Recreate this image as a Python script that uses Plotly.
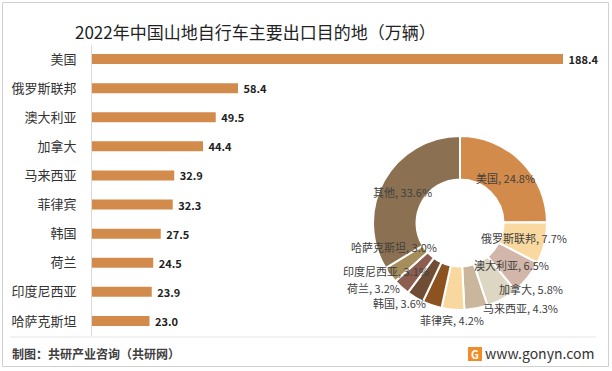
import plotly.graph_objects as go

# ---- data ----
countries = ["美国", "俄罗斯联邦", "澳大利亚", "加拿大", "马来西亚", "菲律宾", "韩国", "荷兰", "印度尼西亚", "哈萨克斯坦"]
volumes = [188.4, 58.4, 49.5, 44.4, 32.9, 32.3, 27.5, 24.5, 23.9, 23.0]

pie_labels = ["美国", "俄罗斯联邦", "澳大利亚", "加拿大", "马来西亚", "菲律宾", "韩国", "荷兰", "印度尼西亚", "哈萨克斯坦", "其他"]
pie_shares = [24.8, 7.7, 6.5, 5.8, 4.3, 4.2, 3.6, 3.2, 3.1, 3.0, 33.6]
pie_colors = ["#D38B4C", "#F9D9A0", "#D3B6AA", "#DCD6C2", "#C9B69C", "#F8D89E",
              "#8C521F", "#6F4E35", "#8C5E50", "#A58E5C", "#8B7151"]

title_text = "2022年中国山地自行车主要出口目的地（万辆）"
source_text = "制图：共研产业咨询（共研网）"
site_text = "www.gonyn.com"

W, H = 612, 371
FONT = "Noto Sans CJK SC"

def px(x):
    return x / W

def py(y):
    return 1 - y / H

fig = go.Figure()

fig.add_trace(go.Bar(
    x=volumes, y=countries, orientation="h",
    marker=dict(color="#D38B4C", line=dict(width=0)),
    text=volumes, texttemplate="\u00a0<b>%{x:.1f}</b>", textposition="outside",
    constraintext="none",
    textfont=dict(size=11, color="#222222", family=FONT),
    cliponaxis=False, hoverinfo="skip", showlegend=False,
))

fig.add_trace(go.Pie(
    labels=pie_labels, values=pie_shares, hole=0.5, sort=False, direction="clockwise",
    rotation=0, marker=dict(colors=pie_colors, line=dict(color="white", width=2)),
    textinfo="none", showlegend=False, hoverinfo="skip",
    domain=dict(x=[px(373), px(547)], y=[py(310), py(136)]),
))

# donut labels (positions in pixels)
label_pos = [(506, 178), (524, 238), (511, 265), (531, 289), (520, 308), (452, 320),
             (399, 303), (373, 288), (386, 271), (394, 247), (402, 192)]
for lab, share, (lx, ly) in zip(pie_labels, pie_shares, label_pos):
    fig.add_annotation(x=px(lx), y=py(ly), xref="paper", yref="paper",
                       xanchor="center", yanchor="middle", borderpad=0,
                       text=f"{lab}, {share:.1f}%", showarrow=False,
                       font=dict(size=11, color="#404040", family=FONT))

fig.add_annotation(x=px(255), y=py(31), xref="paper", yref="paper", text=title_text,
                   xanchor="center", yanchor="middle",
                   showarrow=False, font=dict(size=17, color="#222222", family=FONT))
fig.add_annotation(x=px(10), y=py(353), xref="paper", yref="paper", text=f"<b>{source_text}</b>",
                   showarrow=False, xanchor="left", yanchor="middle",
                   font=dict(size=12, color="#404040", family=FONT))
fig.add_annotation(x=px(596), y=py(353), xref="paper", yref="paper", text=site_text,
                   showarrow=False, xanchor="right", yanchor="middle",
                   font=dict(size=14, color="#333333", family=FONT))
fig.add_annotation(x=px(475), y=py(354), xref="paper", yref="paper", text="<b>G</b>",
                   xanchor="center", yanchor="middle",
                   showarrow=False, font=dict(size=11, color="white", family=FONT))

shapes = [
    dict(type="rect", xref="paper", yref="paper", x0=px(2.5), x1=px(608.5), y0=py(366.5), y1=py(2.5),
         line=dict(color="#D0D0D0", width=1)),
    dict(type="line", xref="paper", yref="paper", x0=px(10), x1=px(596), y0=py(337), y1=py(337),
         line=dict(color="#E6E6E6", width=1)),
    dict(type="rect", xref="paper", yref="paper", x0=px(468), x1=px(482), y0=py(361), y1=py(347),
         fillcolor="#F28C28", line=dict(width=0), layer="below"),
]

fig.update_layout(
    width=W, height=H, margin=dict(l=0, r=0, t=0, b=0),
    paper_bgcolor="white", plot_bgcolor="rgba(0,0,0,0)",
    font=dict(family=FONT),
    bargap=0.656,
    shapes=shapes,
    xaxis=dict(domain=[px(92), px(592)], range=[0, 200], showgrid=False, zeroline=False,
               showticklabels=False, showline=False, fixedrange=True),
    yaxis=dict(domain=[py(335.5), py(44.5)], autorange="reversed", showgrid=False,
               showline=True, linecolor="#D9D9D9", linewidth=1, ticks="",
               ticklabelstandoff=12, tickfont=dict(size=13, color="#333333", family=FONT),
               fixedrange=True),
)

fig.write_html(
    "out.html",
    config={"displayModeBar": False},
    post_script="document.body.style.margin='0';document.body.style.padding='0';document.body.style.overflow='hidden';",
)
